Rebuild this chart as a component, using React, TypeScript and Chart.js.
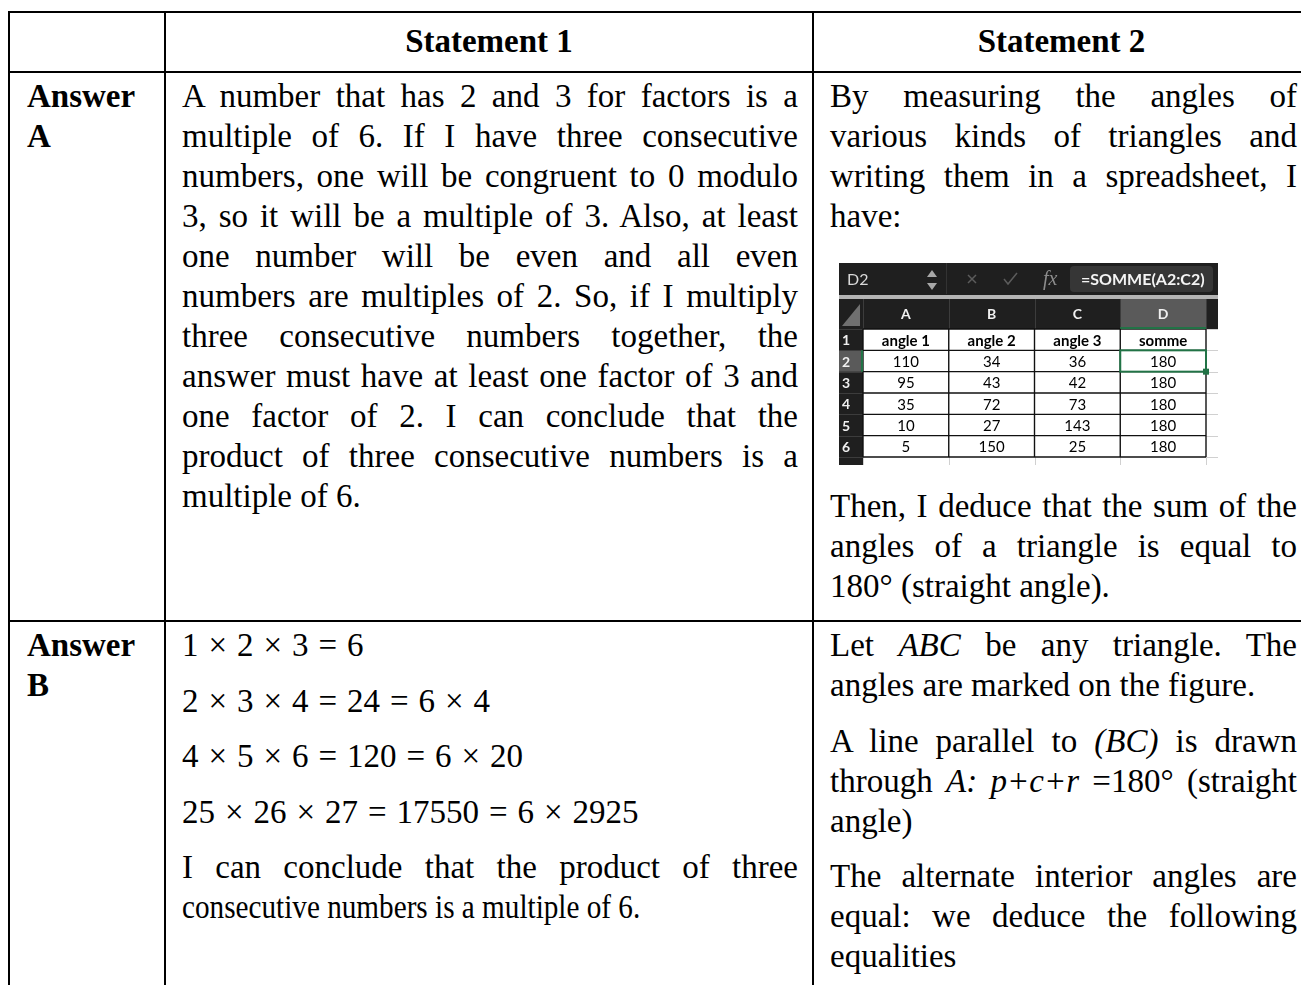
import React, { useEffect, useRef } from 'react';
import { Chart, registerables } from 'chart.js';

Chart.register(...registerables);

// ---------- spreadsheet data ----------
const COLUMN_LETTERS = ['A', 'B', 'C', 'D'];
const ROW_NUMBERS = ['1', '2', '3', '4', '5', '6'];
const HEADER_LABELS = ['angle 1', 'angle 2', 'angle 3', 'somme'];
const ANGLE_1 = [110, 95, 35, 10, 5];
const ANGLE_2 = [34, 43, 72, 27, 150];
const ANGLE_3 = [36, 42, 73, 143, 25];
const SOMME = [180, 180, 180, 180, 180];
const ACTIVE_CELL = 'D2';
const FORMULA = '=SOMME(A2:C2)';

// ---------- document text ----------
const TABLE_HEADERS = ['', 'Statement 1', 'Statement 2'];
const ROW_TITLES = [['Answer', 'A'], ['Answer', 'B']];
const A1_LINES = [
  'A number that has 2 and 3 for factors is a',
  'multiple of 6. If I have three consecutive',
  'numbers, one will be congruent to 0 modulo',
  '3, so it will be a multiple of 3. Also, at least',
  'one number will be even and all even',
  'numbers are multiples of 2. So, if I multiply',
  'three consecutive numbers together, the',
  'answer must have at least one factor of 3 and',
  'one factor of 2. I can conclude that the',
  'product of three consecutive numbers is a',
  'multiple of 6.',
];
const A2_INTRO = [
  'By measuring the angles of',
  'various kinds of triangles and',
  'writing them in a spreadsheet, I',
  'have:',
];
const A2_OUTRO = [
  'Then, I deduce that the sum of the',
  'angles of a triangle is equal to',
  '180° (straight angle).',
];
const B1_EQUATIONS = [
  '1 × 2 × 3 = 6',
  '2 × 3 × 4 = 24 = 6 × 4',
  '4 × 5 × 6 = 120 = 6 × 20',
  '25 × 26 × 27 = 17550 = 6 × 2925',
];
const B1_CONCLUSION = ['I can conclude that the product of three', 'consecutive numbers is a multiple of 6.'];
const B2_PARAS = [
  ['Let *ABC* be any triangle. The', 'angles are marked on the figure.'],
  ['A line parallel to *(BC)* is drawn', 'through *A: p+c+r* =180° (straight', 'angle)'],
  ['The alternate interior angles are', 'equal: we deduce the following', 'equalities'],
];

// ---------- spreadsheet plugin ----------
const DARK = '#1f1f1f';
const MID = '#5a5a5a';
const GREEN = '#217346';

const sheetPlugin = {
  id: 'sheet',
  afterDraw(chart: any) {
    const { ctx, chartArea: a } = chart;
    const xs = chart.scales.x;
    const ys = chart.scales.y;
    const W = chart.width;
    const H = chart.height;
    const nC = COLUMN_LETTERS.length;
    const nR = ROW_NUMBERS.length;
    const colW = (a.right - a.left) / nC;
    const rowH = (a.bottom - a.top) / nR;
    const hdrTop = a.top - 30;
    const activeCol = COLUMN_LETTERS.indexOf(ACTIVE_CELL[0]);
    const activeRow = ROW_NUMBERS.indexOf(ACTIVE_CELL.slice(1));
    const colX = (i: number) => xs.getPixelForValue(i);
    const rowY = (j: number) => ys.getPixelForValue(j);

    ctx.save();
    // formula bar
    ctx.fillStyle = DARK;
    ctx.fillRect(1, 1, W - 1, hdrTop - 5);
    ctx.fillStyle = '#b4b4b4';
    ctx.fillRect(1, hdrTop - 4, W - 1, 4);
    ctx.fillStyle = '#d9d9d9';
    ctx.font = '16px Lato';
    ctx.textBaseline = 'middle';
    ctx.textAlign = 'left';
    ctx.fillText(ACTIVE_CELL, 9, 18);
    // spinner
    ctx.fillStyle = '#a8a8a8';
    ctx.beginPath(); ctx.moveTo(89, 15); ctx.lineTo(99, 15); ctx.lineTo(94, 8); ctx.fill();
    ctx.beginPath(); ctx.moveTo(89, 21); ctx.lineTo(99, 21); ctx.lineTo(94, 28); ctx.fill();
    ctx.strokeStyle = '#333';
    ctx.lineWidth = 1;
    ctx.beginPath(); ctx.moveTo(108.5, 1); ctx.lineTo(108.5, hdrTop - 5); ctx.stroke();
    // cancel / confirm
    ctx.strokeStyle = '#5c5c5c';
    ctx.lineWidth = 1.5;
    ctx.beginPath(); ctx.moveTo(130, 13); ctx.lineTo(138, 21); ctx.moveTo(138, 13); ctx.lineTo(130, 21); ctx.stroke();
    ctx.beginPath(); ctx.moveTo(166, 17); ctx.lineTo(170, 22); ctx.lineTo(179, 11); ctx.stroke();
    ctx.fillStyle = '#8c8c8c';
    ctx.font = 'italic 20px "Liberation Serif"';
    ctx.fillText('fx', 205, 18);
    // formula input
    ctx.fillStyle = '#363636';
    ctx.beginPath();
    (ctx as any).roundRect(232, 4, W - 237, hdrTop - 11, 4);
    ctx.fill();
    ctx.fillStyle = '#f4f4f4';
    ctx.font = 'bold 16px Lato';
    ctx.fillText(FORMULA, 243, 18);

    // column header band
    ctx.fillStyle = DARK;
    ctx.fillRect(1, hdrTop, W - 1, 30);
    ctx.fillStyle = MID;
    ctx.fillRect(colX(activeCol) - colW / 2, hdrTop, colW, 30);
    ctx.fillStyle = '#707070';
    ctx.beginPath(); ctx.moveTo(22, hdrTop + 5); ctx.lineTo(22, a.top - 3); ctx.lineTo(4, a.top - 3); ctx.fill();
    ctx.strokeStyle = '#3c3c3c';
    ctx.lineWidth = 1;
    for (let i = 0; i <= nC; i++) {
      const x = Math.round(a.left + i * colW) + 0.5;
      ctx.beginPath(); ctx.moveTo(x, hdrTop); ctx.lineTo(x, a.top); ctx.stroke();
    }
    ctx.fillStyle = '#f0f0f0';
    ctx.font = 'bold 14px Lato';
    ctx.textAlign = 'center';
    COLUMN_LETTERS.forEach((c, i) => ctx.fillText(c, colX(i), hdrTop + 15));

    // row header column
    ctx.fillStyle = DARK;
    ctx.fillRect(1, a.top, a.left - 1, H - a.top);
    ctx.fillStyle = MID;
    ctx.fillRect(1, rowY(activeRow) - rowH / 2, a.left - 1, rowH);
    ctx.strokeStyle = '#3c3c3c';
    for (let j = 0; j <= nR; j++) {
      const y = Math.round(a.top + j * rowH) + 0.5;
      ctx.beginPath(); ctx.moveTo(1, y); ctx.lineTo(a.left, y); ctx.stroke();
    }
    ctx.fillStyle = '#f0f0f0';
    ctx.font = 'bold 14px Lato';
    ctx.textAlign = 'left';
    ROW_NUMBERS.forEach((r, j) => ctx.fillText(r, 4, rowY(j) + 1));

    // cells
    ctx.fillStyle = '#ffffff';
    ctx.fillRect(a.left, a.top, W - a.left, H - a.top);
    ctx.strokeStyle = '#d0d0d0';
    ctx.lineWidth = 1;
    for (let j = 0; j <= nR; j++) {
      const y = Math.round(a.top + j * rowH) + 0.5;
      ctx.beginPath(); ctx.moveTo(a.right, y); ctx.lineTo(W, y); ctx.stroke();
    }
    for (let i = 0; i <= nC; i++) {
      const x = Math.round(a.left + i * colW) + 0.5;
      ctx.beginPath(); ctx.moveTo(x, a.bottom); ctx.lineTo(x, H); ctx.stroke();
    }
    ctx.strokeStyle = '#111';
    ctx.lineWidth = 1.4;
    for (let j = 0; j <= nR; j++) {
      const y = a.top + j * rowH;
      ctx.beginPath(); ctx.moveTo(a.left, y); ctx.lineTo(a.right, y); ctx.stroke();
    }
    for (let i = 0; i <= nC; i++) {
      const x = a.left + i * colW;
      ctx.beginPath(); ctx.moveTo(x, a.top); ctx.lineTo(x, a.bottom); ctx.stroke();
    }

    const columns = [ANGLE_1, ANGLE_2, ANGLE_3, SOMME];
    ctx.fillStyle = '#000';
    ctx.textAlign = 'center';
    ctx.font = 'bold 15px Lato';
    HEADER_LABELS.forEach((h, i) => ctx.fillText(h, colX(i), rowY(0) + 1));
    ctx.font = '15px Lato';
    columns.forEach((col, i) => {
      col.forEach((v, k) => ctx.fillText(String(v), colX(i), rowY(k + 1) + 1));
    });

    // selection
    ctx.strokeStyle = GREEN;
    ctx.lineWidth = 2;
    const sx = colX(activeCol) - colW / 2;
    const sy = rowY(activeRow) - rowH / 2;
    ctx.strokeRect(sx, sy, colW, rowH);
    ctx.beginPath(); ctx.moveTo(sx, a.top - 1); ctx.lineTo(sx + colW, a.top - 1); ctx.stroke();
    ctx.beginPath(); ctx.moveTo(a.left - 1, sy); ctx.lineTo(a.left - 1, sy + rowH); ctx.stroke();
    ctx.fillStyle = GREEN;
    ctx.fillRect(sx + colW - 3, sy + rowH - 3, 6, 6);
    ctx.restore();
  },
};

function Sheet() {
  const ref = useRef<HTMLCanvasElement>(null);
  useEffect(() => {
    if (!ref.current) return;
    const chart = new Chart(ref.current, {
      type: 'line',
      data: { labels: COLUMN_LETTERS, datasets: [] },
      options: {
        responsive: false,
        animation: false,
        devicePixelRatio: 1,
        layout: { padding: { left: 25, top: 67, right: 12, bottom: 8 } },
        plugins: { legend: { display: false }, tooltip: { enabled: false } },
        scales: {
          x: { type: 'category', labels: COLUMN_LETTERS, offset: true, display: false },
          y: { type: 'category', labels: ROW_NUMBERS, offset: true, display: false },
        },
      },
      plugins: [sheetPlugin],
    } as any);
    return () => chart.destroy();
  }, []);
  return (
    <canvas
      ref={ref}
      width={380}
      height={203}
      style={{ display: 'block', width: 380, height: 203, marginLeft: 8, marginTop: 26, marginBottom: 21 }}
    />
  );
}

// ---------- document helpers ----------
const segs = (line: string) =>
  line.split('*').map((s, i) => (i % 2 ? <i key={i}>{s}</i> : <React.Fragment key={i}>{s}</React.Fragment>));

function Para({
  lines,
  gap = 0,
  lastScale = 1,
  wordSpacing = 0,
}: {
  lines: string[];
  gap?: number;
  lastScale?: number;
  wordSpacing?: number;
}) {
  return (
    <div style={{ marginBottom: gap, wordSpacing }}>
      {lines.map((l, i) => {
        const last = i === lines.length - 1;
        return (
          <div
            key={i}
            style={
              {
                textAlign: last ? 'left' : 'justify',
                textAlignLast: last ? 'left' : 'justify',
                ...(last && lastScale !== 1
                  ? { transform: `scaleX(${lastScale})`, transformOrigin: 'left center', whiteSpace: 'nowrap' }
                  : {}),
              } as any
            }
          >
            {segs(l)}
          </div>
        );
      })}
    </div>
  );
}

const COL_W = [158, 648, 497];
const B = '2px solid #000';
const cell = (ci: number, extra: React.CSSProperties = {}): React.CSSProperties => ({
  boxSizing: 'border-box',
  width: COL_W[ci],
  flex: 'none',
  borderRight: B,
  borderLeft: ci === 0 ? B : undefined,
  ...extra,
});
const PAD = [
  { paddingLeft: 17, paddingRight: 6, paddingTop: 3 },
  { paddingLeft: 16, paddingRight: 14, paddingTop: 3 },
  { paddingLeft: 16, paddingRight: 12, paddingTop: 3 },
];

export default function App() {
  return (
    <>
      <style>{'html,body{overflow:hidden;}'}</style>
      <div
        style={{
          position: 'absolute',
          left: 8,
          top: 11,
          width: 1303,
          fontFamily: '"Liberation Serif", "Times New Roman", serif',
          fontSize: 33,
          lineHeight: '40px',
          color: '#000',
        }}
      >
        <div style={{ display: 'flex', height: 62 }}>
          {TABLE_HEADERS.map((h, i) => (
            <div
              key={i}
              style={cell(i, {
                borderTop: B,
                borderBottom: B,
                display: 'flex',
                alignItems: 'center',
                justifyContent: 'center',
                paddingBottom: 3,
                fontWeight: 'bold',
              })}
            >
              {h}
            </div>
          ))}
        </div>
        <div style={{ display: 'flex', height: 549 }}>
          <div style={cell(0, { ...PAD[0], borderBottom: B, fontWeight: 'bold' })}>
            {ROW_TITLES[0].map((t, i) => (
              <div key={i}>{t}</div>
            ))}
          </div>
          <div style={cell(1, { ...PAD[1], borderBottom: B })}>
            <Para lines={A1_LINES} />
          </div>
          <div style={cell(2, { ...PAD[2], borderBottom: B })}>
            <Para lines={A2_INTRO} />
            <Sheet />
            <Para lines={A2_OUTRO} />
          </div>
        </div>
        <div style={{ display: 'flex', height: 500 }}>
          <div style={cell(0, { ...PAD[0], fontWeight: 'bold' })}>
            {ROW_TITLES[1].map((t, i) => (
              <div key={i}>{t}</div>
            ))}
          </div>
          <div style={cell(1, PAD[1])}>
            {B1_EQUATIONS.map((e, i) => (
              <Para key={i} lines={[e]} gap={15.5} wordSpacing={1.7} />
            ))}
            <Para lines={B1_CONCLUSION} gap={15.5} lastScale={0.885} />
          </div>
          <div style={cell(2, PAD[2])}>
            {B2_PARAS.map((p, i) => (
              <Para key={i} lines={p} gap={15.5} />
            ))}
          </div>
        </div>
      </div>
    </>
  );
}
